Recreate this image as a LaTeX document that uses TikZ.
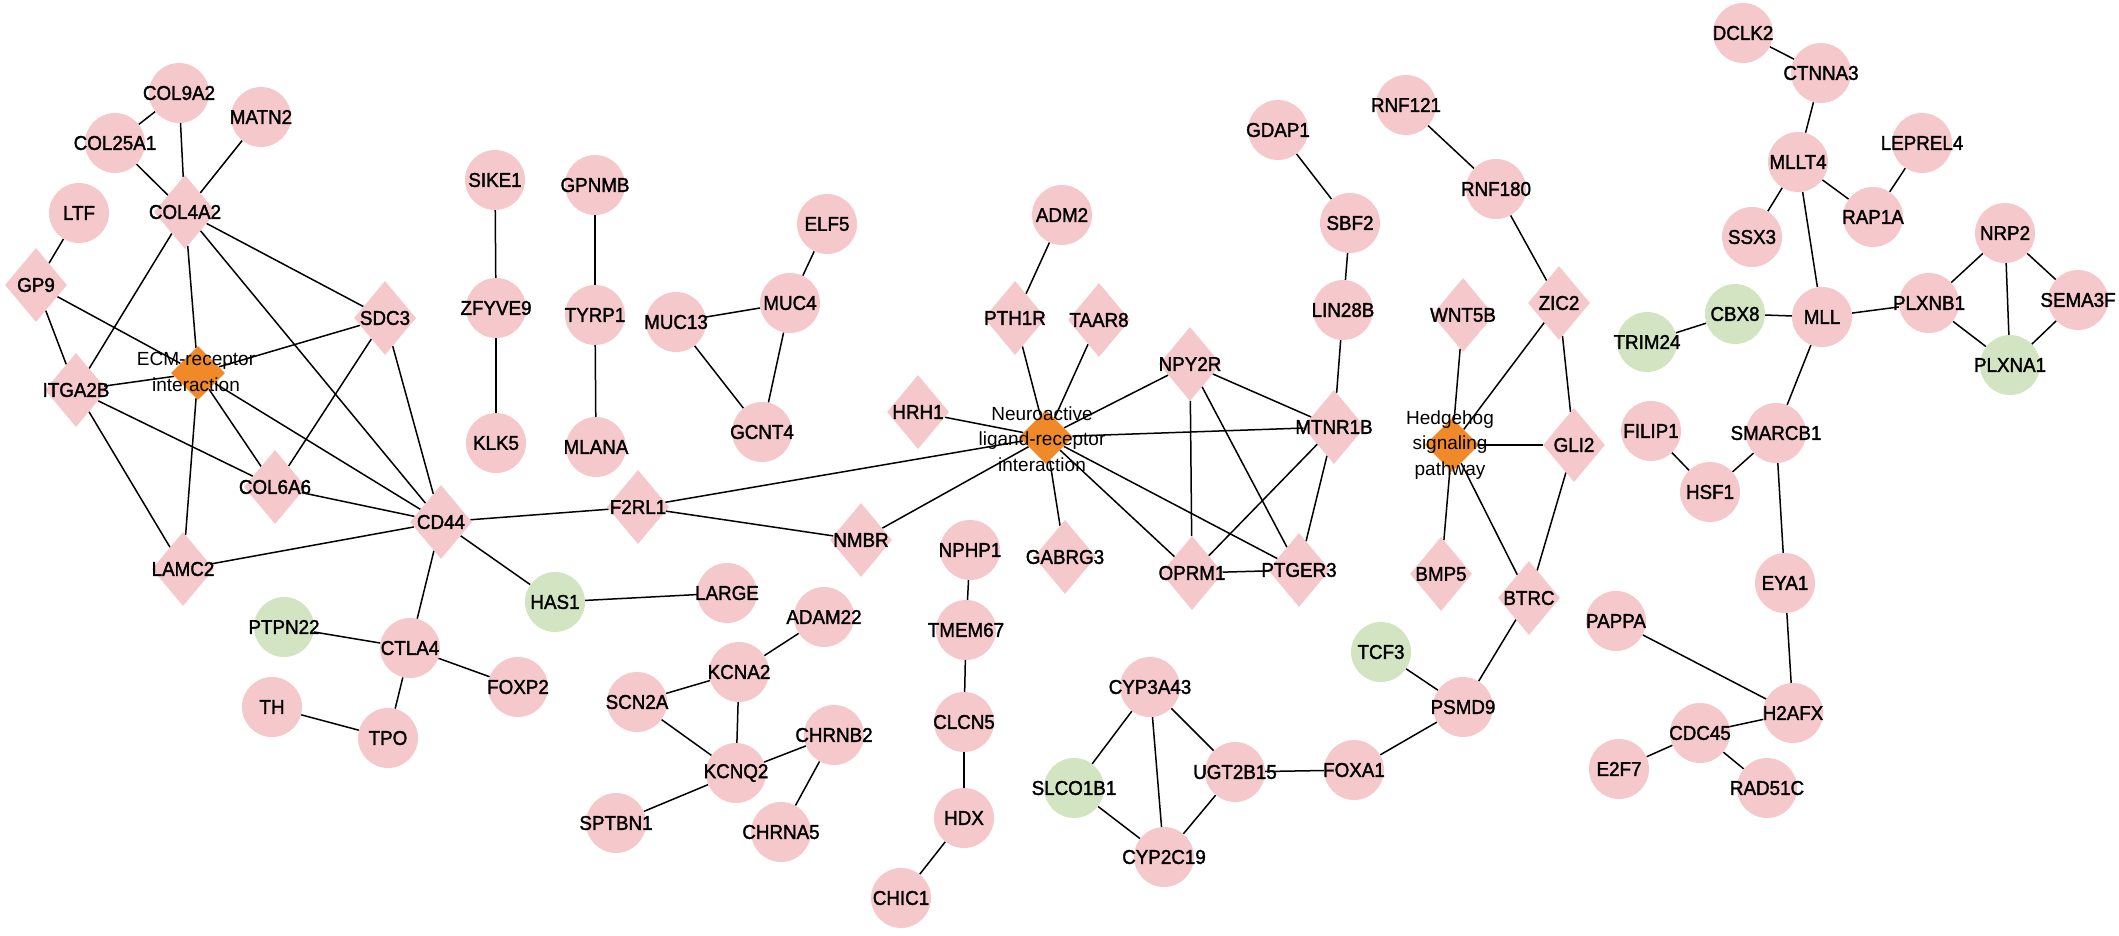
\documentclass[tikz,border=0pt]{standalone}
\usepackage{fontspec}
\setmainfont{Liberation Sans}
\newfontfamily\genefont{Liberation Sans}[FakeBold=1.6, FakeStretch=0.94]
\usetikzlibrary{shapes.geometric}
\pgfdeclarelayer{bg}
\pgfsetlayers{bg,main}
\definecolor{pinkc}{RGB}{245,200,204}
\definecolor{greenc}{RGB}{210,228,194}
\definecolor{orangec}{RGB}{240,138,40}
\tikzset{
  gene/.style={circle, fill=pinkc, minimum size=60pt, inner sep=0pt},
  ggene/.style={gene, fill=greenc},
  dgene/.style={diamond, fill=pinkc, minimum width=62pt, minimum height=74pt, inner sep=0pt},
  pway/.style={diamond, fill=orangec, minimum width=54pt, minimum height=54pt, inner sep=0pt},
  lbl/.style={font=\genefont\fontsize{20}{22}\selectfont, inner sep=0pt},
  plbl/.style={font=\fontsize{19}{25.5}\selectfont, align=center, inner sep=0pt},
  link/.style={line width=1.5pt, black}
}
\newcommand\genenode[4][gene]{\node[#1, label={[lbl]center:#4}] (#2) at (#3) {};}
\begin{document}
\begin{tikzpicture}[x=1pt, y=-1pt]
\useasboundingbox (0,0) rectangle (2119,936);
% ---- left cluster
\genenode{COL9A2}{179,93}{COL9A2}
\genenode{MATN2}{261,117}{MATN2}
\genenode{COL25A1}{115,143}{COL25A1}
\genenode{LTF}{79,213}{LTF}
\genenode[dgene]{COL4A2}{185,212}{COL4A2}
\genenode[dgene]{GP9}{36,285}{GP9}
\genenode[dgene]{SDC3}{385,318}{SDC3}
\node[pway] (ECM) at (198,373) {};
\node[plbl] (ECMl) at (196,372) {ECM-receptor\\interaction};
\genenode[dgene]{ITGA2B}{76,390}{ITGA2B}
\genenode[dgene]{COL6A6}{275,487}{COL6A6}
\genenode[dgene]{CD44}{441,522}{CD44}
\genenode[dgene]{LAMC2}{183,569}{LAMC2}
\genenode[dgene]{F2RL1}{638,507}{F2RL1}
\genenode[ggene]{HAS1}{555,602}{HAS1}
\genenode{LARGE}{727,593}{LARGE}
\genenode[ggene]{PTPN22}{284,627}{PTPN22}
\genenode{CTLA4}{410,648}{CTLA4}
\genenode{FOXP2}{518,687}{FOXP2}
\genenode{TH}{272,707}{TH}
\genenode{TPO}{388,738}{TPO}
% ---- small chains
\genenode{SIKE1}{495,180}{SIKE1}
\genenode{GPNMB}{595,185}{GPNMB}
\genenode{ZFYVE9}{496,308}{ZFYVE9}
\genenode{TYRP1}{595,315}{TYRP1}
\genenode{KLK5}{496,443}{KLK5}
\genenode{MLANA}{596,447}{MLANA}
\genenode{ELF5}{827,224}{ELF5}
\genenode{MUC4}{790,303}{MUC4}
\genenode{MUC13}{676,322}{MUC13}
\genenode{GCNT4}{762,432}{GCNT4}
\genenode{ADAM22}{824,617}{ADAM22}
\genenode{KCNA2}{739,672}{KCNA2}
\genenode{SCN2A}{637,702}{SCN2A}
\genenode{CHRNB2}{834,735}{CHRNB2}
\genenode{KCNQ2}{736,773}{KCNQ2}
\genenode{SPTBN1}{616,823}{SPTBN1}
\genenode{CHRNA5}{781,832}{CHRNA5}
\genenode{NPHP1}{970,550}{NPHP1}
\genenode{TMEM67}{966,630}{TMEM67}
\genenode{CLCN5}{964,722}{CLCN5}
\genenode{HDX}{964,818}{HDX}
\genenode{CHIC1}{901,898}{CHIC1}
% ---- neuroactive cluster
\genenode{ADM2}{1062,215}{ADM2}
\genenode[dgene]{PTH1R}{1015,318}{PTH1R}
\genenode[dgene]{TAAR8}{1099,320}{TAAR8}
\genenode[dgene]{NPY2R}{1190,364}{NPY2R}
\genenode[dgene]{HRH1}{918,412}{HRH1}
\node[pway] (NLR) at (1046,437) {};
\node[plbl] (NLRl) at (1042,439) {Neuroactive\\ligand-receptor\\interaction};
\genenode[dgene]{MTNR1B}{1334,427}{MTNR1B}
\genenode[dgene]{NMBR}{861,540}{NMBR}
\genenode[dgene]{GABRG3}{1065,557}{GABRG3}
\genenode[dgene]{OPRM1}{1192,573}{OPRM1}
\genenode[dgene]{PTGER3}{1299,570}{PTGER3}
\genenode{CYP3A43}{1150,687}{CYP3A43}
\genenode[ggene]{SLCO1B1}{1074,788}{SLCO1B1}
\genenode{UGT2B15}{1235,772}{UGT2B15}
\genenode{CYP2C19}{1164,857}{CYP2C19}
\genenode{FOXA1}{1354,770}{FOXA1}
% ---- hedgehog cluster
\genenode{GDAP1}{1278,130}{GDAP1}
\genenode{SBF2}{1350,223}{SBF2}
\genenode{LIN28B}{1343,310}{LIN28B}
\genenode{RNF121}{1406,105}{RNF121}
\genenode{RNF180}{1496,189}{RNF180}
\genenode[dgene]{ZIC2}{1559,303}{ZIC2}
\genenode[dgene]{WNT5B}{1463,315}{WNT5B}
\node[pway] (HH) at (1452,445) {};
\node[plbl] (HHl) at (1450,445) {Hedgehog\\signaling\\pathway};
\genenode[dgene]{GLI2}{1574,445}{GLI2}
\genenode[dgene]{BMP5}{1441,574}{BMP5}
\genenode[dgene]{BTRC}{1529,598}{BTRC}
\genenode[ggene]{TCF3}{1381,652}{TCF3}
\genenode{PSMD9}{1463,707}{PSMD9}
% ---- right cluster
\genenode{DCLK2}{1743,33}{DCLK2}
\genenode{CTNNA3}{1821,73}{CTNNA3}
\genenode{MLLT4}{1798,162}{MLLT4}
\genenode{LEPREL4}{1922,143}{LEPREL4}
\genenode{RAP1A}{1873,217}{RAP1A}
\genenode{SSX3}{1752,237}{SSX3}
\genenode{NRP2}{2005,233}{NRP2}
\genenode{SEMA3F}{2078,300}{SEMA3F}
\genenode{PLXNB1}{1929,303}{PLXNB1}
\genenode{MLL}{1822,317}{MLL}
\genenode[ggene]{CBX8}{1735,314}{CBX8}
\genenode[ggene]{TRIM24}{1647,342}{TRIM24}
\genenode[ggene]{PLXNA1}{2010,365}{PLXNA1}
\genenode{SMARCB1}{1776,433}{SMARCB1}
\genenode{FILIP1}{1651,431}{FILIP1}
\genenode{HSF1}{1710,492}{HSF1}
\genenode{EYA1}{1785,583}{EYA1}
\genenode{PAPPA}{1616,621}{PAPPA}
\genenode{H2AFX}{1793,713}{H2AFX}
\genenode{CDC45}{1700,733}{CDC45}
\genenode{E2F7}{1619,769}{E2F7}
\genenode{RAD51C}{1767,788}{RAD51C}
\begin{pgfonlayer}{bg}
\foreach \a/\b in {COL9A2/COL25A1, COL9A2/COL4A2, MATN2/COL4A2, COL25A1/COL4A2, LTF/GP9,
  GP9/ITGA2B, GP9/ECM, COL4A2/ECM, COL4A2/ITGA2B, COL4A2/SDC3, COL4A2/CD44, SDC3/ECM,
  SDC3/COL6A6, SDC3/CD44, ECM/ITGA2B, ECM/COL6A6, ECM/CD44, ECM/LAMC2, ITGA2B/LAMC2,
  ITGA2B/COL6A6, COL6A6/CD44, LAMC2/CD44, CD44/F2RL1, CD44/HAS1, CD44/CTLA4, F2RL1/NLR,
  F2RL1/NMBR, HAS1/LARGE, CTLA4/PTPN22, CTLA4/FOXP2, CTLA4/TPO, TH/TPO,
  SIKE1/ZFYVE9, ZFYVE9/KLK5, GPNMB/TYRP1, TYRP1/MLANA, ELF5/MUC4, MUC4/MUC13, MUC13/GCNT4,
  MUC4/GCNT4, ADAM22/KCNA2, KCNA2/SCN2A, KCNA2/KCNQ2, SCN2A/KCNQ2, KCNQ2/CHRNB2,
  KCNQ2/SPTBN1, CHRNB2/CHRNA5, NPHP1/TMEM67, TMEM67/CLCN5, CLCN5/HDX, HDX/CHIC1,
  ADM2/PTH1R, PTH1R/NLR, TAAR8/NLR, NPY2R/NLR, HRH1/NLR, MTNR1B/NLR, NMBR/NLR, GABRG3/NLR,
  OPRM1/NLR, PTGER3/NLR, NPY2R/MTNR1B, NPY2R/OPRM1, NPY2R/PTGER3, MTNR1B/OPRM1,
  MTNR1B/PTGER3, OPRM1/PTGER3, MTNR1B/LIN28B, LIN28B/SBF2, SBF2/GDAP1,
  RNF121/RNF180, RNF180/ZIC2, ZIC2/HH, ZIC2/GLI2, WNT5B/HH, HH/GLI2, HH/BMP5, HH/BTRC,
  GLI2/BTRC, BTRC/PSMD9, TCF3/PSMD9, PSMD9/FOXA1, FOXA1/UGT2B15,
  CYP3A43/SLCO1B1, CYP3A43/CYP2C19, CYP3A43/UGT2B15, SLCO1B1/CYP2C19, UGT2B15/CYP2C19,
  DCLK2/CTNNA3, CTNNA3/MLLT4, MLLT4/SSX3, MLLT4/RAP1A, RAP1A/LEPREL4, MLLT4/MLL, MLL/CBX8,
  CBX8/TRIM24, MLL/PLXNB1, MLL/SMARCB1, PLXNB1/NRP2, PLXNB1/PLXNA1, NRP2/PLXNA1,
  NRP2/SEMA3F, SEMA3F/PLXNA1, SMARCB1/HSF1, FILIP1/HSF1, SMARCB1/EYA1, EYA1/H2AFX,
  PAPPA/H2AFX, H2AFX/CDC45, CDC45/E2F7, CDC45/RAD51C}
  \draw[link] (\a) -- (\b);
\end{pgfonlayer}
\end{tikzpicture}
\end{document}
